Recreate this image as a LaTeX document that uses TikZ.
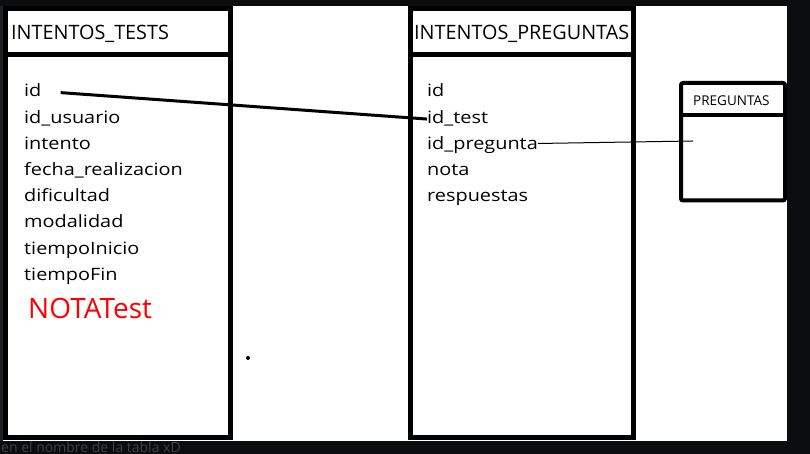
\documentclass[tikz,border=0pt]{standalone}
\usepackage{fontspec}
\setmainfont{Open Sans}
\newfontfamily\fieldfont[FakeStretch=1.17]{Open Sans}
\definecolor{screenblack}{HTML}{0B0C0E}
\definecolor{edgegray}{HTML}{1E1F22}
\definecolor{notegray}{HTML}{404144}

\begin{document}
\begin{tikzpicture}[x=1pt,y=-1pt,
    field/.style={anchor=base west,inner sep=0pt,font=\fieldfont\fontsize{17}{19}\selectfont},
    title/.style={anchor=base west,inner sep=0pt,font=\fontsize{19.8}{22}\selectfont},
    tablebox/.style={draw=black,line width=5pt}]
        \useasboundingbox (0,0) rectangle (810,454);
        % screen around the drawing
        \fill [screenblack] (0,0) rectangle (810,454);
        \fill [edgegray] (0,6) rectangle (3,441);
        \fill [white] (3,6) rectangle (787,441);
        \node [anchor=base west,inner sep=0pt,text=notegray,font=\fontsize{14}{16}\selectfont] (note) at (1,452) {en el nombre de la tabla xD};
        % INTENTOS_TESTS
        \draw [tablebox] (5.5,8.5) rectangle (230.5,437.5);
        \draw [tablebox] (5.5,54.5) -- (230.5,54.5);
        \node [title] (tests) at (11,40) {INTENTOS\_TESTS};
        \node [field] (t-id) at (24,97) {id};
        \node [field] (t-usuario) at (24,123.2) {id\_usuario};
        \node [field] (t-intento) at (24,149.4) {intento};
        \node [field] (t-fecha) at (24,175.6) {fecha\_realizacion};
        \node [field] (t-dificultad) at (24,201.8) {dificultad};
        \node [field] (t-modalidad) at (24,228) {modalidad};
        \node [field] (t-inicio) at (24,254.2) {tiempoInicio};
        \node [field] (t-fin) at (24,280.4) {tiempoFin};
        \node [anchor=base west,inner sep=0pt,text=red,font=\fontsize{28}{32}\selectfont] (t-nota) at (28,318) {NOTATest};
        % INTENTOS_PREGUNTAS
        \draw [tablebox] (410,8.5) rectangle (633,437.5);
        \draw [tablebox] (410,54.5) -- (633,54.5);
        \node [title] (intentos) at (414,40) {INTENTOS\_PREGUNTAS};
        \node [field] (p-id) at (427,97) {id};
        \node [field] (p-test) at (427,123.2) {id\_test};
        \node [field] (p-pregunta) at (427,149.4) {id\_pregunta};
        \node [field] (p-nota) at (427,175.6) {nota};
        \node [field] (p-respuestas) at (427,201.8) {respuestas};
        % PREGUNTAS
        \draw [draw=black,line width=4pt,rounded corners=2pt] (681,83) rectangle (785,200.5);
        \draw [black,line width=4pt] (681,115) -- (785,115);
        \node [anchor=base west,inner sep=0pt,font=\fontsize{13.5}{15}\selectfont] (preguntas) at (693,106) {PREGUNTAS};
        \coordinate (q-link) at (693,141);
        % links
        \draw [black,line width=3pt] ([xshift=19pt,yshift=-2pt]t-id.east) -- ([yshift=-1pt]p-test.west);
        \draw [black,line width=1pt] ([yshift=1.5pt]p-pregunta.east) -- (q-link);
        \fill [black] (248,358) circle (2);
\end{tikzpicture}
\end{document}
